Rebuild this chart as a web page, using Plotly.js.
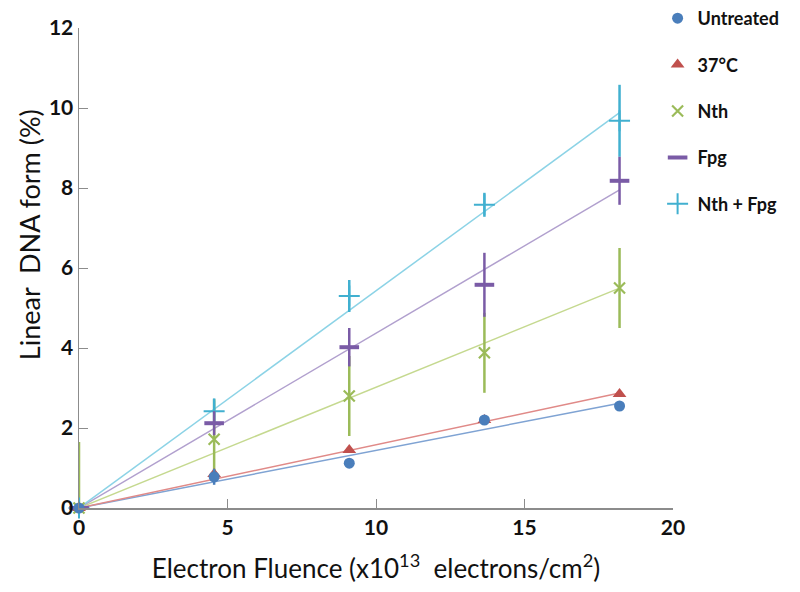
<!DOCTYPE html>
<html>
<head>
<meta charset="utf-8">
<script src="https://cdn.plot.ly/plotly-3.0.1.min.js"></script>
<style>html,body{margin:0;padding:0;background:#fff;}#chart{width:800px;height:592px;}</style>
</head>
<body>
<div id="chart"></div>
<script>
// Data
const fluence = [0, 4.55, 9.1, 13.65, 18.2];
const seriesNames = ["Untreated", "37°C", "Nth", "Fpg", "Nth + Fpg"];
const untreated = [0, 0.78, 1.12, 2.2, 2.55];
const untreatedErr = [0, 0.2, 0, 0, 0];
const heat37 = [0, 0.85, 1.45, 2.2, 2.85];
const heat37Err = [0, 0, 0, 0, 0];
const nth = [0, 1.72, 2.8, 3.88, 5.5];
const nthErr = [1.65, 1.0, 1.0, 1.0, 1.0];
const fpg = [0, 2.12, 4.02, 5.58, 8.18];
const fpgErr = [0, 0.3, 0.48, 0.8, 0.6];
const nthFpg = [0, 2.42, 5.3, 7.58, 9.68];
const nthFpgErr = [0, 0.32, 0.4, 0.3, 0.9];
// slopes of the linear fit lines through the origin
const fitSlopes = [0.144, 0.158, 0.302, 0.437, 0.543];
const fitX = [0, 18.2];
const xTitle = "Electron Fluence (x10<sup>13</sup>  electrons/cm<sup>2</sup>)";
const yTitle = "Linear  DNA form (%)";

const values = [untreated, heat37, nth, fpg, nthFpg];
const errors = [untreatedErr, heat37Err, nthErr, fpgErr, nthFpgErr];
const colors = ["#4A7EBB", "#C0504D", "#9BBB59", "#7A5BA6", "#41B0D0"];
const lineColors = ["#7FA3D3", "#E08A88", "#C5D98F", "#B1A0CE", "#8CD3E6"];
const markers = [
  {symbol: "circle", size: 11},
  {symbol: "triangle-up", size: 12},
  {symbol: "x-thin-open", size: 11, lw: 2.2},
  {symbol: "line-ew-open", size: 14, lw: 4},
  {symbol: "cross-thin-open", size: 15, lw: 2}
];

const traces = [];
// fit lines
for (let i = 0; i < 5; i++) {
  traces.push({
    x: fitX, y: fitX.map(v => v * fitSlopes[i]),
    mode: "lines", type: "scatter", showlegend: false, hoverinfo: "skip",
    line: {color: lineColors[i], width: 1.5}, cliponaxis: false
  });
}
// error bars + markers; drawing order chosen so overlaps look like the reference
const order = [2, 4, 3, 1, 0];
for (const i of order) {
  const m = markers[i];
  traces.push({
    x: fluence, y: values[i], name: seriesNames[i], legendgroup: "g" + i, legendrank: i + 1,
    mode: "markers", type: "scatter", cliponaxis: false,
    error_y: {type: "data", array: errors[i], visible: true, color: colors[i], thickness: 2.5, width: 0},
    marker: m.lw ? {symbol: m.symbol, size: m.size, color: colors[i], line: {color: colors[i], width: m.lw}}
                 : {symbol: m.symbol, size: m.size, color: colors[i], line: {width: 0}}
  });
}

const layout = {
  width: 800, height: 592,
  margin: {l: 79, r: 127, t: 28, b: 84, autoexpand: false},
  paper_bgcolor: "#fff", plot_bgcolor: "#fff",
  font: {family: "Lato, 'Open Sans', sans-serif", color: "#000"},
  showlegend: true,
  legend: {
    xref: "container", yref: "container",
    x: 0.822, y: 1.0, xanchor: "left", yanchor: "top",
    traceorder: "grouped", tracegroupgap: 20,
    font: {size: 18, family: "Lato, sans-serif", weight: "bold", color: "#111"},
    bgcolor: "rgba(0,0,0,0)", itemwidth: 30
  },
  xaxis: {
    range: [0, 20], tickvals: [0, 5, 10, 15, 20], ticktext: ["0", "5", "10", "15", "20"],
    showgrid: false, zeroline: false, showline: true, linecolor: "#8c8c8c", linewidth: 1.5,
    ticks: "inside", ticklen: 9, tickcolor: "#8c8c8c", tickwidth: 1,
    tickfont: {size: 21, weight: "bold", color: "#111"},
    title: {text: xTitle, font: {size: 26, color: "#111"}, standoff: 22}
  },
  yaxis: {
    range: [0, 12], tickvals: [0, 2, 4, 6, 8, 10, 12],
    showgrid: false, zeroline: false, showline: true, linecolor: "#8c8c8c", linewidth: 1.5,
    ticks: "inside", ticklen: 9, tickcolor: "#8c8c8c", tickwidth: 1,
    tickfont: {size: 21, weight: "bold", color: "#111"}
  },
  annotations: [{
    text: yTitle, textangle: -90, showarrow: false,
    xref: "paper", yref: "paper", x: -0.082, y: 0.569, xanchor: "center", yanchor: "middle",
    font: {size: 27, color: "#111", family: "Lato, sans-serif"}
  }]
};

Plotly.newPlot("chart", traces, layout, {displayModeBar: false, staticPlot: true});
</script>
</body>
</html>
